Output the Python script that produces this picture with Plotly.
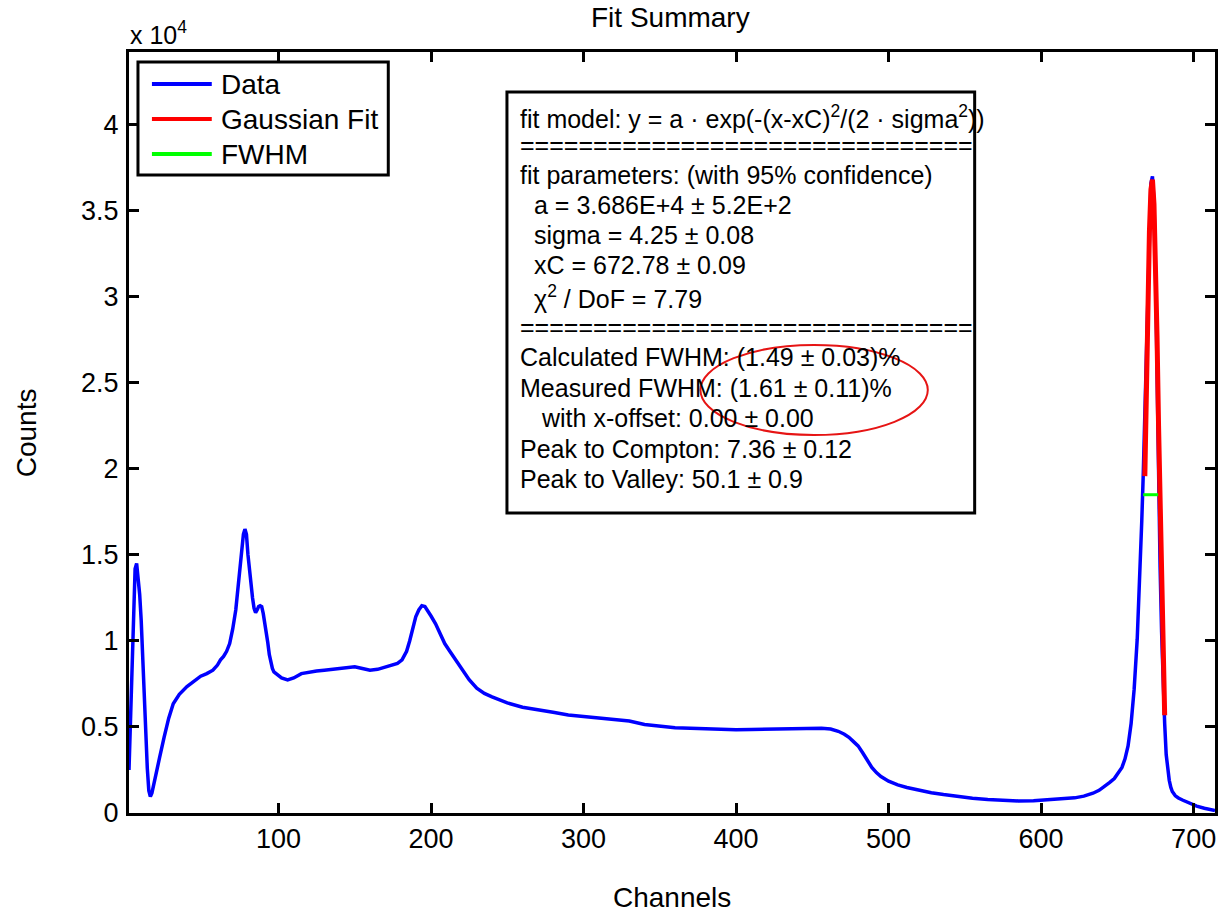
import plotly.graph_objects as go

# ---------------- data ----------------
channels = [2, 3, 4, 5, 6, 7, 8, 9, 10, 11, 12, 13, 14, 15, 16, 17, 18, 20, 22, 25, 28, 31, 35,
            40, 45, 49, 53, 57, 60, 62, 64, 66, 68, 70, 72, 74, 76, 77, 78, 79, 80, 81, 82, 83,
            84, 85, 86, 87, 88, 89, 90, 91, 92, 93, 94, 95, 96, 97, 99, 102, 106, 110, 115, 120,
            125, 130, 135, 140, 145, 150, 155, 160, 165, 170, 175, 178, 181, 184, 186, 188, 190,
            192, 194, 196, 198, 200, 203, 206, 209, 212, 215, 220, 225, 230, 235, 240, 245, 250,
            260, 270, 280, 290, 300, 310, 320, 330, 340, 350, 360, 370, 380, 390, 400, 410, 420,
            430, 440, 450, 456, 462, 467, 471, 474, 477, 480, 483, 486, 489, 492, 495, 500, 506,
            512, 520, 528, 536, 545, 555, 565, 575, 585, 595, 605, 615, 622, 628, 634, 638, 642,
            645, 648, 651, 653, 655, 657, 659, 661, 663, 665, 666, 667, 668, 669, 670, 671, 672,
            673, 674, 675, 676, 677, 678, 679, 680, 681, 682, 683, 684, 685, 686, 688, 690, 693,
            697, 702, 707, 711, 714]
counts = [2500, 5500, 9500, 12500, 14200, 14500, 13600, 12700, 11200, 8900, 6800, 4500, 2600,
          1300, 950, 1150, 1600, 2400, 3200, 4400, 5500, 6350, 6900, 7350, 7700, 7950, 8100,
          8300, 8600, 8900, 9100, 9400, 9850, 10700, 11800, 13400, 15400, 16200, 16500, 16200,
          15000, 14000, 13200, 12500, 11900, 11650, 11800, 12000, 12050, 12000, 11600, 11100,
          10600, 9900, 9200, 8700, 8400, 8200, 8050, 7850, 7730, 7850, 8100, 8200, 8250, 8300,
          8350, 8400, 8450, 8500, 8400, 8300, 8350, 8500, 8600, 8700, 8900, 9400, 10000, 10800,
          11400, 11800, 12050, 12000, 11750, 11450, 11000, 10450, 9850, 9450, 9050, 8400, 7750,
          7250, 6950, 6750, 6550, 6400, 6150, 5980, 5850, 5700, 5600, 5500, 5450, 5350, 5150,
          5050, 4950, 4920, 4880, 4830, 4840, 4850, 4870, 4860, 4900, 4920, 4930, 4880, 4750,
          4580, 4400, 4150, 3900, 3500, 3050, 2650, 2350, 2120, 1850, 1630, 1480, 1320, 1180,
          1070, 960, 860, 780, 730, 700, 710, 760, 830, 880, 980, 1150, 1320, 1550, 1780, 2000,
          2350, 2650, 3150, 3900, 5200, 7200, 10100, 14000, 17000, 19800, 23000, 27000, 31000,
          34300, 36600, 37000, 35500, 31500, 25500, 19000, 14300, 10500, 7500, 5200, 3400, 2500,
          1900, 1500, 1250, 1000, 870, 740, 580, 400, 280, 200, 150]

fit_channels = [668, 669, 670, 671, 672, 673, 674, 675, 676, 677, 678, 679, 680, 681]
fit_counts = [19580, 24820, 29760, 33760, 36240, 36810, 35370, 32160, 27660, 22510, 17340,
              12630, 8710, 5680]

fwhm_channels = [666.9, 676.7]
fwhm_counts = [18500, 18500]

x_tickvals = [100, 200, 300, 400, 500, 600, 700]
y_tickvals = [0, 5000, 10000, 15000, 20000, 25000, 30000, 35000, 40000]
y_ticktext = ["0", "0.5", "1", "1.5", "2", "2.5", "3", "3.5", "4"]

legend_names = ["Data", "Gaussian Fit", "FWHM"]
legend_colors = ["rgb(0,0,255)", "rgb(255,0,0)", "rgb(0,255,0)"]

info_lines = [
    "fit model: y = a · exp(-(x-xC)<sup>2</sup>/(2 · sigma<sup>2</sup>))",
    "=" * 31,
    "fit parameters: (with 95% confidence)",
    "a = 3.686E+4 ± 5.2E+2",
    "sigma = 4.25 ± 0.08",
    "xC = 672.78 ± 0.09",
    "χ<sup>2</sup> / DoF = 7.79",
    "=" * 31,
    "Calculated FWHM: (1.49 ± 0.03)%",
    "Measured FWHM: (1.61 ± 0.11)%",
    "with x-offset: 0.00 ± 0.00",
    "Peak to Compton: 7.36 ± 0.12",
    "Peak to Valley: 50.1 ± 0.9",
]
info_indent = [0, 0, 0, 1, 1, 1, 1, 0, 0, 0, 2, 0, 0]
info_y_px = [117, 145, 175, 205, 235, 265, 297, 327, 357, 388, 418, 449, 479]

# ---------------- layout helpers (pixel -> paper) ----------------
W, H = 1220, 914
L, R, T, B = 129, 1218, 52, 813
FONT = "Liberation Sans, Arial, Helvetica, sans-serif"


def px(x):
    return (x - L) / (R - L)


def py(y):
    return (B - y) / (B - T)


fig = go.Figure()
fig.add_trace(go.Scatter(x=channels, y=counts, mode="lines", name="Data",
                         line=dict(color=legend_colors[0], width=3.5), showlegend=False))
fig.add_trace(go.Scatter(x=fit_channels, y=fit_counts, mode="lines", name="Gaussian Fit",
                         line=dict(color=legend_colors[1], width=5), showlegend=False))
fig.add_trace(go.Scatter(x=fwhm_channels, y=fwhm_counts, mode="lines", name="FWHM",
                         line=dict(color=legend_colors[2], width=3), showlegend=False))

shapes = []
annotations = []

# manual legend (MATLAB style)
shapes.append(dict(type="rect", xref="paper", yref="paper", x0=px(138), x1=px(389),
                   y0=py(175), y1=py(62), line=dict(color="black", width=3),
                   fillcolor="white", layer="above"))
leg_y = [84, 119, 154]
for name, col, yy in zip(legend_names, legend_colors, leg_y):
    shapes.append(dict(type="line", xref="paper", yref="paper", x0=px(152), x1=px(212),
                       y0=py(yy), y1=py(yy), line=dict(color=col, width=4), layer="above"))
    annotations.append(dict(text=name, xref="paper", yref="paper", x=px(219), y=py(yy),
                            xanchor="left", yanchor="middle", showarrow=False,
                            font=dict(size=28, color="black", family=FONT)))

# fit summary box
shapes.append(dict(type="rect", xref="paper", yref="paper", x0=px(508), x1=px(977),
                   y0=py(513), y1=py(92), line=dict(color="black", width=3),
                   fillcolor="white", layer="below"))
indent_px = [519, 533, 540]
for txt, ind, yy in zip(info_lines, info_indent, info_y_px):
    annotations.append(dict(text=txt, xref="paper", yref="paper", x=px(indent_px[ind]),
                            y=py(yy), xanchor="left", yanchor="middle", showarrow=False,
                            font=dict(size=25, color="black", family=FONT)))

# red ellipse highlight
shapes.append(dict(type="circle", xref="paper", yref="paper", x0=px(702), x1=px(930),
                   y0=py(435), y1=py(345), line=dict(color="rgb(230,20,20)", width=2),
                   layer="above"))

# exponent marker, axis titles
annotations.append(dict(text="x 10<sup>4</sup>", xref="paper", yref="paper", x=px(128),
                        y=py(33), xanchor="left", yanchor="middle", showarrow=False,
                        font=dict(size=25, color="black", family=FONT)))
annotations.append(dict(text="Channels", xref="paper", yref="paper", x=0.5, y=py(897),
                        xanchor="center", yanchor="middle", showarrow=False,
                        font=dict(size=28, color="black", family=FONT)))
annotations.append(dict(text="Counts", xref="paper", yref="paper", x=px(26), y=py(433),
                        xanchor="center", yanchor="middle", showarrow=False, textangle=-90,
                        font=dict(size=28, color="black", family=FONT)))
annotations.append(dict(text="Fit Summary", xref="paper", yref="paper", x=px(672), y=py(18),
                        xanchor="center", yanchor="middle", showarrow=False,
                        font=dict(size=28, color="black", family=FONT)))

axis_common = dict(showline=True, linecolor="black", linewidth=3, mirror="allticks",
                   ticks="inside", ticklen=10, tickwidth=3, tickcolor="black",
                   showgrid=False, zeroline=False,
                   tickfont=dict(size=27, color="black", family=FONT))

fig.update_layout(
    width=W, height=H,
    margin=dict(l=L, r=W - R, t=T, b=H - B),
    paper_bgcolor="white", plot_bgcolor="white",
    showlegend=False,
    shapes=shapes, annotations=annotations,
    xaxis=dict(range=[2, 714], tickvals=x_tickvals, ticklabelstandoff=0, **axis_common),
    yaxis=dict(range=[0, 44232], tickvals=y_tickvals, ticktext=y_ticktext,
               ticklabelstandoff=2, **axis_common),
    font=dict(family=FONT, color="black"),
)

fig.write_html("out.html")
